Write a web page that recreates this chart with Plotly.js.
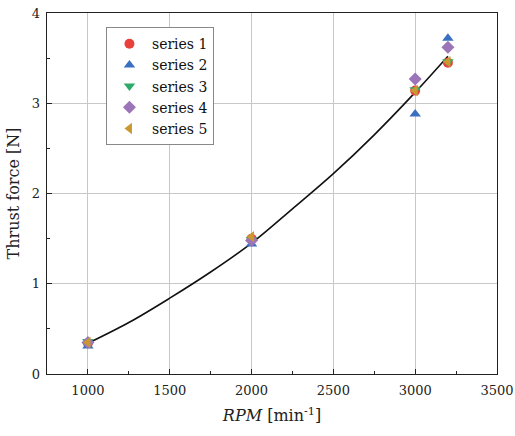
<!DOCTYPE html>
<html>
<head>
<meta charset="utf-8">
<script src="https://cdn.plot.ly/plotly-3.0.1.min.js"></script>
<style>html,body{margin:0;padding:0;background:#fff;}#chart{width:515px;height:436px;}</style>
</head>
<body>
<div id="chart"></div>
<script>
const rpm = [1000, 2000, 3000, 3200];
const series1 = [0.34, 1.50, 3.14, 3.45];
const series2 = [0.31, 1.44, 2.88, 3.72];
const series3 = [0.36, 1.49, 3.15, 3.46];
const series4 = [0.35, 1.48, 3.27, 3.62];
const series5 = [0.35, 1.52, 3.14, 3.46];
const fitRpm = [1000, 1250, 1500, 1750, 2000, 2250, 2500, 2750, 3000, 3200];
const fitForce = [0.34, 0.57, 0.84, 1.13, 1.45, 1.83, 2.22, 2.65, 3.12, 3.52];
const names = ['series 1', 'series 2', 'series 3', 'series 4', 'series 5'];
const values = [series1, series2, series3, series4, series5];
const symbols = ['circle', 'triangle-up', 'triangle-down', 'diamond', 'triangle-left'];
const colors = ['#e8413c', '#3a6fc2', '#2eaa6b', '#9c75b8', '#c9992f'];

const font = "'DejaVu Serif', 'Liberation Serif', serif";
const traces = [{
  x: fitRpm, y: fitForce, mode: 'lines', line: {color: '#111', width: 1.6, shape: 'spline'},
  showlegend: false, hoverinfo: 'skip'
}];
names.forEach((n, i) => traces.push({
  x: rpm, y: values[i], name: n, mode: 'markers', type: 'scatter',
  marker: {symbol: symbols[i], color: colors[i], size: 10, line: {width: 0}}
}));

const layout = {
  width: 515, height: 436,
  margin: {l: 47, r: 18, t: 13, b: 62},
  paper_bgcolor: '#fff', plot_bgcolor: '#fff',
  font: {family: font, size: 13, color: '#222'},
  showlegend: true,
  legend: {x: 0.131, y: 0.961, xanchor: 'left', yanchor: 'top', bordercolor: '#888', borderwidth: 1,
           bgcolor: '#fff', font: {family: font, size: 14, color: '#111'}, itemwidth: 35, tracegroupgap: 0},
  xaxis: {
    range: [750, 3500], tickvals: [1000, 1500, 2000, 2500, 3000, 3500],
    ticks: 'inside', ticklen: 5, tickcolor: '#222', showline: true, linecolor: '#222', linewidth: 1.3, mirror: true,
    showgrid: true, gridcolor: '#c8c8c8', gridwidth: 1, zeroline: false,
    minor: {tickvals: [1250, 1750, 2250, 2750, 3250], ticks: 'inside', ticklen: 3, tickcolor: '#222', showgrid: false},
    tickfont: {family: font, size: 13, color: '#222'}, ticklabelstandoff: 4,
    title: {text: '<i>RPM</i> [min<sup>-1</sup>]', font: {family: font, size: 16, color: '#222'}, standoff: 13}
  },
  yaxis: {
    range: [0, 4], tickvals: [0, 1, 2, 3, 4],
    ticks: 'inside', ticklen: 5, tickcolor: '#222', showline: true, linecolor: '#222', linewidth: 1.3, mirror: true,
    showgrid: true, gridcolor: '#c8c8c8', gridwidth: 1, zeroline: false,
    minor: {tickvals: [0.5, 1.5, 2.5, 3.5], ticks: 'inside', ticklen: 3, tickcolor: '#222', showgrid: false},
    tickfont: {family: font, size: 13, color: '#222'}, ticklabelstandoff: 3,
    title: {text: 'Thrust force [N]', font: {family: font, size: 16, color: '#222'}, standoff: 8}
  }
};
Plotly.newPlot('chart', traces, layout, {displayModeBar: false, staticPlot: true});
</script>
</body>
</html>
